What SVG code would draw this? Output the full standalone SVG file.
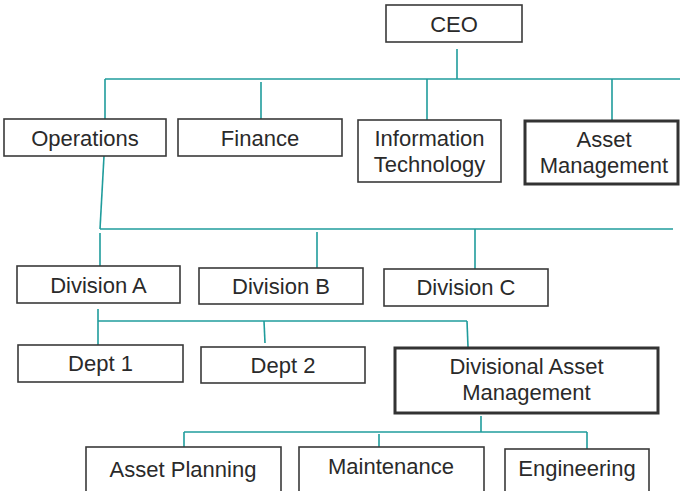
<svg xmlns="http://www.w3.org/2000/svg" width="680" height="491" viewBox="0 0 680 491">
<style>
.box{fill:#fff;stroke:#3a3a3a;stroke-width:1.6}
.thick{fill:#fff;stroke:#333;stroke-width:3}
.t{font-family:"Liberation Sans",Arial,sans-serif;font-size:22px;fill:#2a2a2a;text-anchor:middle}
.c{stroke:#1f9c9c;stroke-width:1.6;fill:none}
</style>
<rect width="680" height="491" fill="#fff"/>
<g id="connectors">
<line class="c" x1="457" y1="49" x2="457" y2="79"/>
<line class="c" x1="105" y1="79" x2="680" y2="79"/>
<line class="c" x1="105" y1="79" x2="105" y2="119"/>
<line class="c" x1="261" y1="82" x2="261" y2="119"/>
<line class="c" x1="427" y1="79" x2="427" y2="120"/>
<line class="c" x1="612" y1="79" x2="612" y2="120"/>
<polyline class="c" points="104,156 100,229"/>
<line class="c" x1="100" y1="229" x2="673" y2="229"/>
<line class="c" x1="100" y1="233" x2="100" y2="266"/>
<line class="c" x1="317" y1="232" x2="317" y2="268"/>
<line class="c" x1="475" y1="229" x2="475" y2="271"/>
<line class="c" x1="98" y1="309" x2="98" y2="321"/>
<line class="c" x1="98" y1="321" x2="467" y2="321"/>
<line class="c" x1="98" y1="321" x2="98" y2="345"/>
<line class="c" x1="264" y1="321" x2="265" y2="343"/>
<line class="c" x1="467" y1="321" x2="468" y2="347"/>
<line class="c" x1="481" y1="416" x2="481" y2="432"/>
<line class="c" x1="184" y1="432" x2="587" y2="432"/>
<line class="c" x1="184" y1="432" x2="184" y2="447"/>
<line class="c" x1="379" y1="434" x2="379" y2="449"/>
<line class="c" x1="587" y1="432" x2="587" y2="450"/>
</g>
<g id="ceo"><rect class="box" x="386" y="5" width="136" height="37"/><text class="t" x="454" y="32">CEO</text></g>
<g id="operations"><rect class="box" x="4" y="119" width="162" height="37"/><text class="t" x="85" y="146">Operations</text></g>
<g id="finance"><rect class="box" x="178" y="119" width="164" height="37"/><text class="t" x="260" y="146">Finance</text></g>
<g id="it"><rect class="box" x="358" y="120" width="143" height="62"/><text class="t" x="429.5" y="146">Information</text><text class="t" x="429.5" y="172">Technology</text></g>
<g id="asset-management"><rect class="thick" x="525" y="121" width="153" height="63"/><text class="t" x="604" y="147">Asset</text><text class="t" x="604" y="173">Management</text></g>
<g id="division-a"><rect class="box" x="17" y="266" width="163" height="37"/><text class="t" x="98.5" y="293">Division A</text></g>
<g id="division-b"><rect class="box" x="199" y="268" width="164" height="36"/><text class="t" x="281" y="294">Division B</text></g>
<g id="division-c"><rect class="box" x="384" y="269" width="164" height="37"/><text class="t" x="466" y="295">Division C</text></g>
<g id="dept-1"><rect class="box" x="18" y="345" width="165" height="37"/><text class="t" x="100.5" y="371">Dept 1</text></g>
<g id="dept-2"><rect class="box" x="201" y="347" width="164" height="36"/><text class="t" x="283" y="373">Dept 2</text></g>
<g id="divisional-asset-management"><rect class="thick" x="395" y="348" width="263" height="65"/><text class="t" x="526.5" y="374">Divisional Asset</text><text class="t" x="526.5" y="400">Management</text></g>
<g id="asset-planning"><rect class="box" x="86" y="447" width="195" height="50"/><text class="t" x="183" y="477">Asset Planning</text></g>
<g id="maintenance"><rect class="box" x="299" y="447" width="185" height="50"/><text class="t" x="391" y="474">Maintenance</text></g>
<g id="engineering"><rect class="box" x="505" y="449" width="144" height="50"/><text class="t" x="577" y="476">Engineering</text></g>
</svg>
